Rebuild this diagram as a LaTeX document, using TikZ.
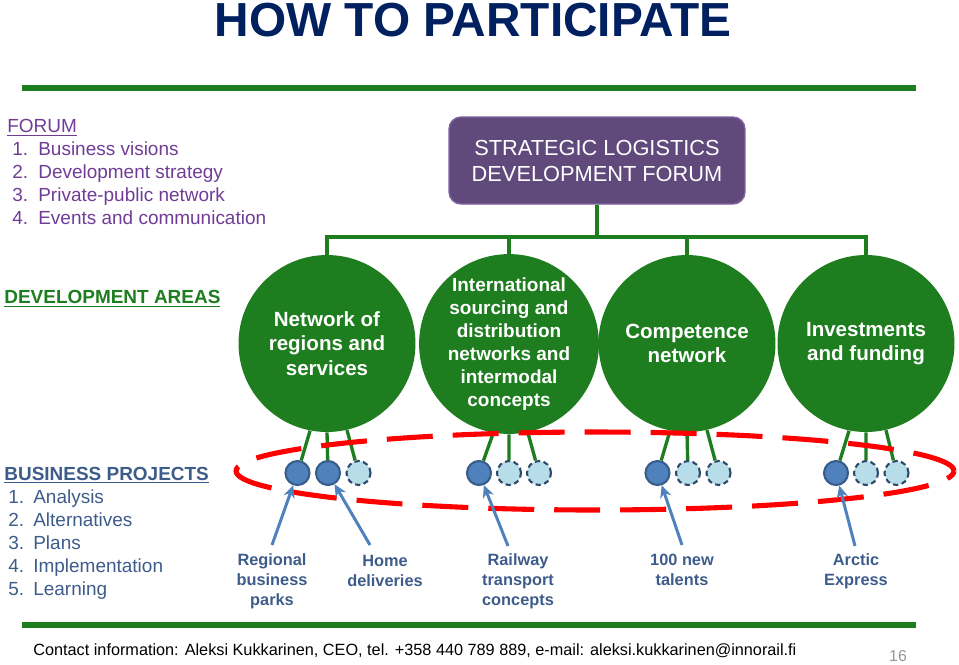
\documentclass[tikz,border=0pt]{standalone}
\usepackage{fontspec}
\setmainfont{Liberation Sans}
\usetikzlibrary{arrows.meta}

\definecolor{titleblue}{RGB}{0,32,96}
\definecolor{leafgreen}{RGB}{30,125,30}
\definecolor{forumpurple}{RGB}{96,74,123}
\definecolor{forumedge}{RGB}{128,100,162}
\definecolor{listpurple}{RGB}{112,60,150}
\definecolor{slateblue}{RGB}{62,92,138}
\definecolor{projblue}{RGB}{79,129,189}
\definecolor{projedge}{RGB}{56,93,138}
\definecolor{ideablue}{RGB}{183,221,232}
\definecolor{ideaedge}{RGB}{47,72,110}
\definecolor{pagegray}{RGB}{150,150,150}

\tikzset{
  area/.style={circle, fill=leafgreen, minimum size=3.54cm, inner sep=0pt,
    text=white, align=center, font=\bfseries\fontsize{11.7}{13.9}\selectfont},
  tree/.style={leafgreen, line width=2.2pt},
  rule/.style={leafgreen, line width=3.6pt},
  proj/.style={circle, fill=projblue, draw=projedge, line width=1.2pt,
    minimum size=0.48cm, inner sep=0pt},
  idea/.style={proj, fill=ideablue, draw=ideaedge, dash pattern=on 3pt off 2pt},
  pointer/.style={projblue, line width=1.7pt, -{Stealth[length=7pt,width=6.5pt]}},
  caption/.style={text=slateblue, align=center, inner sep=0pt,
    font=\bfseries\fontsize{9.3}{11.4}\selectfont},
  heading/.style={anchor=west, inner sep=0pt, align=left},
}

\begin{document}
\begin{tikzpicture}[x=0.02cm, y=-0.02cm]
    \useasboundingbox (0,0) rectangle (959,664);

    % Titulo y reglas
    \node[text=titleblue, font=\bfseries\fontsize{27.2}{30}\selectfont] (title) at (473,20) {HOW TO PARTICIPATE};
    \draw[rule] (22,88) -- (916,88);
    \draw[rule] (22,625) -- (916,625);

    % Foro
    \node[heading, text=listpurple, font=\fontsize{10.8}{13.1}\selectfont] (forumlist) at (7,172) {%
        \underline{FORUM}\\
        \hspace{0.1cm}\makebox[0.52cm][l]{1.}Business visions\\
        \hspace{0.1cm}\makebox[0.52cm][l]{2.}Development strategy\\
        \hspace{0.1cm}\makebox[0.52cm][l]{3.}Private-public network\\
        \hspace{0.1cm}\makebox[0.52cm][l]{4.}Events and communication};
    \node[fill=forumpurple, draw=forumedge, line width=0.8pt, rounded corners=0.24cm,
          minimum width=5.92cm, minimum height=1.74cm, text=white, align=center,
          font=\fontsize{12.4}{14.8}\selectfont] (forum) at (597,160.5)
        {STRATEGIC LOGISTICS\\DEVELOPMENT FORUM};

    % Areas de desarrollo
    \node[heading, text=leafgreen, font=\bfseries\fontsize{10.8}{13}\selectfont] (devlabel) at (4,299) {\underline{DEVELOPMENT AREAS}};
    \node[area] (a1) at (327,343.5) {Network of\\regions and\\services};
    \node[area, font=\bfseries\fontsize{10.8}{13.1}\selectfont] (a2) at (509,344) {International\\sourcing and\\distribution\\networks and\\intermodal\\concepts};
    \node[area] (a3) at (687,343.5) {Competence\\network};
    \node[area] (a4) at (866,343.5) {Investments\\and funding};

    \coordinate (bus) at (597,237);
    \draw[tree] (forum.south) -- (bus);
    \draw[tree] (a1.north) |- (bus) -| (a4.north);
    \draw[tree] (a2.north) -- (a2.north |- bus);
    \draw[tree] (a3.north) -- (a3.north |- bus);

    % Proyectos
    \node[heading, text=slateblue, font=\fontsize{10.8}{13.1}\selectfont] (projlist) at (4,533) {%
        \textbf{\underline{BUSINESS PROJECTS}}\\
        \hspace{0.08cm}\makebox[0.5cm][l]{1.}Analysis\\
        \hspace{0.08cm}\makebox[0.5cm][l]{2.}Alternatives\\
        \hspace{0.08cm}\makebox[0.5cm][l]{3.}Plans\\
        \hspace{0.08cm}\makebox[0.5cm][l]{4.}Implementation\\
        \hspace{0.08cm}\makebox[0.5cm][l]{5.}Learning};

    \node[proj] (p11) at (297.5,473) {};
    \node[proj] (p12) at (328,473) {};
    \node[idea] (p13) at (358.5,473) {};
    \node[proj] (p21) at (479,473) {};
    \node[idea] (p22) at (509,473) {};
    \node[idea] (p23) at (539,473) {};
    \node[proj] (p31) at (657.5,473) {};
    \node[idea] (p32) at (688,473) {};
    \node[idea] (p33) at (718.5,473) {};
    \node[proj] (p41) at (836,473) {};
    \node[idea] (p42) at (866,473) {};
    \node[idea] (p43) at (896.5,473) {};

    \draw[tree, line width=1.9pt] (a1.-101) -- (p11) (a1.-90) -- (p12) (a1.-77) -- (p13);
    \draw[tree, line width=1.9pt] (a2.-100) -- (p21) (a2.-90) -- (p22) (a2.-78) -- (p23);
    \draw[tree, line width=1.9pt] (a3.-101) -- (p31) (a3.-90) -- (p32) (a3.-77) -- (p33);
    \draw[tree, line width=1.9pt] (a4.-101) -- (p41) (a4.-90) -- (p42) (a4.-77) -- (p43);

    \draw[red, line width=2.9pt, dash pattern=on 0.92cm off 0.4cm] (595,471) ellipse [x radius=7.18cm, y radius=0.78cm];

    % Ejemplos
    \node[caption] (c1) at (272,581) {Regional\\business\\parks};
    \node[caption] (c2) at (385,571) {Home\\deliveries};
    \node[caption] (c3) at (518,581) {Railway\\transport\\concepts};
    \node[caption] (c4) at (682,570) {100 new\\talents};
    \node[caption] (c5) at (856,571) {Arctic\\Express};

    \coordinate (s1) at (272,545);
    \coordinate (s2) at (370,545);
    \coordinate (s3) at (508,546);
    \coordinate (s4) at (682,545);
    \coordinate (s5) at (855,546);
    \draw[pointer] (s1) -- (p11);
    \draw[pointer] (s2) -- (p12);
    \draw[pointer] (s3) -- (p21);
    \draw[pointer] (s4) -- (p31);
    \draw[pointer] (s5) -- (p41);

    % Pie
    \node[anchor=west, inner sep=0pt, font=\fontsize{9.25}{11}\selectfont] (contact) at (33,651)
        {Contact information: Aleksi Kukkarinen, CEO, tel. +358 440 789 889, e-mail: aleksi.kukkarinen@innorail.fi};
    \node[text=pagegray, font=\fontsize{9}{11}\selectfont] (page) at (898,656) {16};
\end{tikzpicture}
\end{document}
